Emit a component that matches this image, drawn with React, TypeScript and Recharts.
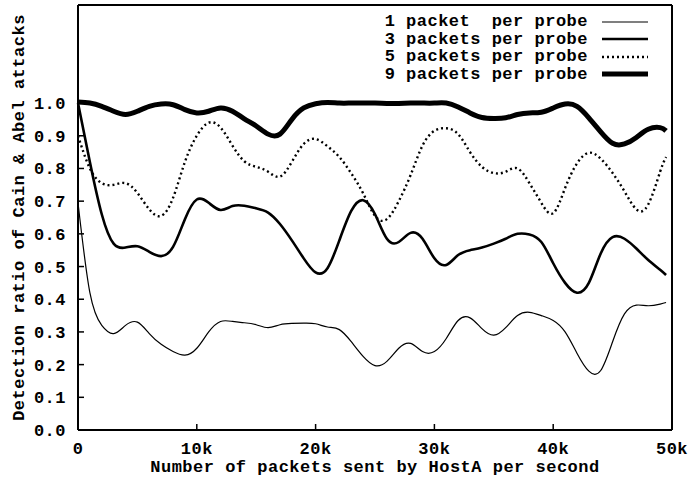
import React from "react";
import { LineChart, Line, XAxis, YAxis } from "recharts";

const rate = [
  0, 1000, 2000, 3000, 4000, 5000, 6000, 7000, 8000, 9000, 10000, 11000, 12000,
  13000, 14000, 15000, 16000, 17000, 18000, 19000, 20000, 21000, 22000, 23000,
  24000, 25000, 26000, 27000, 28000, 29000, 30000, 31000, 32000, 33000, 34000,
  35000, 36000, 37000, 38000, 39000, 40000, 41000, 42000, 43000, 44000, 45000,
  46000, 47000, 48000, 49000, 49500,
];

const probe1 = [
  0.695, 0.42, 0.32, 0.295, 0.32, 0.33, 0.295, 0.262, 0.24, 0.229, 0.25, 0.3,
  0.332, 0.332, 0.328, 0.322, 0.313, 0.322, 0.326, 0.327, 0.325, 0.315, 0.307,
  0.27, 0.225, 0.197, 0.21, 0.25, 0.265, 0.24, 0.24, 0.28, 0.335, 0.343, 0.31,
  0.29, 0.313, 0.35, 0.36, 0.35, 0.335, 0.3, 0.235, 0.18, 0.182, 0.27, 0.355,
  0.382, 0.38, 0.385, 0.39,
];

const probe3 = [
  1.0, 0.82, 0.66, 0.57, 0.558, 0.562, 0.545, 0.532, 0.56, 0.645, 0.705, 0.695,
  0.673, 0.685, 0.686, 0.678, 0.665, 0.63, 0.58, 0.525, 0.482, 0.495, 0.58,
  0.67, 0.703, 0.66, 0.585, 0.575, 0.603, 0.585, 0.525, 0.505, 0.535, 0.55,
  0.558, 0.57, 0.585, 0.6, 0.598, 0.575, 0.51, 0.45, 0.42, 0.45, 0.54, 0.59,
  0.585, 0.555, 0.52, 0.49, 0.474,
];

const probe5 = [
  0.9, 0.8, 0.755, 0.75, 0.755, 0.725, 0.675, 0.655, 0.71, 0.82, 0.9, 0.94,
  0.925, 0.87, 0.822, 0.805, 0.79, 0.775, 0.82, 0.875, 0.89, 0.868, 0.835,
  0.785, 0.724, 0.655, 0.645, 0.7, 0.78, 0.87, 0.915, 0.923, 0.905, 0.85, 0.805,
  0.786, 0.79, 0.8, 0.755, 0.695, 0.663, 0.74, 0.815, 0.848, 0.83, 0.786, 0.73,
  0.675, 0.69, 0.79, 0.835,
];

const probe9 = [
  1.003, 1.0, 0.99, 0.975, 0.965, 0.975, 0.99, 0.997, 0.995, 0.98, 0.97, 0.975,
  0.985, 0.975, 0.952, 0.93, 0.905, 0.905, 0.95, 0.985, 0.998, 1.002, 1.0, 1.0,
  1.0, 1.0, 0.999, 0.999, 1.0, 1.0, 1.0, 1.0, 0.988, 0.97, 0.956, 0.953, 0.955,
  0.965, 0.97, 0.972, 0.985, 0.997, 0.99, 0.955, 0.912, 0.877, 0.875, 0.895,
  0.92, 0.925, 0.915,
];

const xTicks = [0, 10000, 20000, 30000, 40000, 50000];
const yTicks = [0, 0.1, 0.2, 0.3, 0.4, 0.5, 0.6, 0.7, 0.8, 0.9, 1.0];

const seriesInfo = [
  { key: "p1", name: "1 packet  per probe", width: 1.2, dash: undefined },
  { key: "p3", name: "3 packets per probe", width: 2.6, dash: undefined },
  { key: "p5", name: "5 packets per probe", width: 2.4, dash: "2 3" },
  { key: "p9", name: "9 packets per probe", width: 5, dash: undefined },
];

const data = rate.map((x, i) => ({
  x,
  p1: probe1[i],
  p3: probe3[i],
  p5: probe5[i],
  p9: probe9[i],
}));

const font = "'Liberation Mono', 'DejaVu Sans Mono', monospace";
const tickStyle = {
  fontFamily: font,
  fontWeight: 700,
  fontSize: 17,
  letterSpacing: 0.5,
  fill: "#000",
};

// legend drawn over the plot, top right, like gnuplot's key
function KeyBox() {
  return (
    <div
      style={{
        position: "absolute",
        top: 13,
        right: 40,
        display: "flex",
        flexDirection: "column",
      }}
    >
      {seriesInfo.map((s) => (
        <div
          key={s.key}
          style={{
            display: "flex",
            alignItems: "center",
            justifyContent: "flex-end",
            height: 17.5,
          }}
        >
          <span
            style={{
              whiteSpace: "pre",
              fontFamily: font,
              fontWeight: 700,
              fontSize: 17,
              letterSpacing: 0.5,
              color: "#000",
              marginRight: 14,
              lineHeight: "17px",
            }}
          >
            {s.name}
          </span>
          <svg width={46} height={10}>
            <line
              x1={0}
              y1={5}
              x2={46}
              y2={5}
              stroke="#000"
              strokeWidth={s.width}
              strokeDasharray={s.dash}
            />
          </svg>
        </div>
      ))}
    </div>
  );
}

export default function App() {
  return (
    <div
      style={{
        position: "absolute",
        left: 0,
        top: 0,
        width: 688,
        height: 489,
        background: "#fff",
      }}
    >
      <LineChart
        width={688}
        height={489}
        data={data}
        margin={{ top: 0, right: 6, bottom: 29, left: 8 }}
      >
        <XAxis
          dataKey="x"
          type="number"
          domain={[0, 50000]}
          ticks={xTicks}
          tickFormatter={(v) => (v === 0 ? "0" : `${v / 1000}k`)}
          height={30}
          tickSize={-6}
          tickMargin={18}
          axisLine={{ stroke: "#000", strokeWidth: 2 }}
          tickLine={{ stroke: "#000", strokeWidth: 1.5 }}
          tick={tickStyle}
          label={{
            value: "Number of packets sent by HostA per second",
            position: "bottom",
            offset: 0,
            style: { ...tickStyle, textAnchor: "middle" },
          }}
        />
        <XAxis
          xAxisId="top"
          dataKey="x"
          type="number"
          orientation="top"
          domain={[0, 50000]}
          ticks={xTicks}
          height={5}
          tickSize={-6}
          tick={false}
          axisLine={{ stroke: "#000", strokeWidth: 2 }}
          tickLine={{ stroke: "#000", strokeWidth: 1.5 }}
        />
        <YAxis
          type="number"
          domain={[0, 1.3]}
          ticks={yTicks}
          tickFormatter={(v) => v.toFixed(1)}
          width={70}
          tickSize={-6}
          tickMargin={18}
          axisLine={{ stroke: "#000", strokeWidth: 2 }}
          tickLine={{ stroke: "#000", strokeWidth: 1.5 }}
          tick={tickStyle}
          label={{
            value: "Detection ratio of Cain & Abel attacks",
            angle: -90,
            position: "insideLeft",
            offset: 10,
            style: { ...tickStyle, textAnchor: "middle" },
          }}
        />
        <YAxis
          yAxisId="right"
          type="number"
          orientation="right"
          domain={[0, 1.3]}
          ticks={yTicks}
          width={10}
          tickSize={-6}
          tick={false}
          axisLine={{ stroke: "#000", strokeWidth: 2 }}
          tickLine={{ stroke: "#000", strokeWidth: 1.5 }}
        />
        {seriesInfo.map((s) => (
          <Line
            key={s.key}
            dataKey={s.key}
            name={s.name}
            type="natural"
            stroke="#000"
            strokeWidth={s.width}
            strokeDasharray={s.dash}
            dot={false}
            activeDot={false}
            isAnimationActive={false}
          />
        ))}
      </LineChart>
      <KeyBox />
    </div>
  );
}
